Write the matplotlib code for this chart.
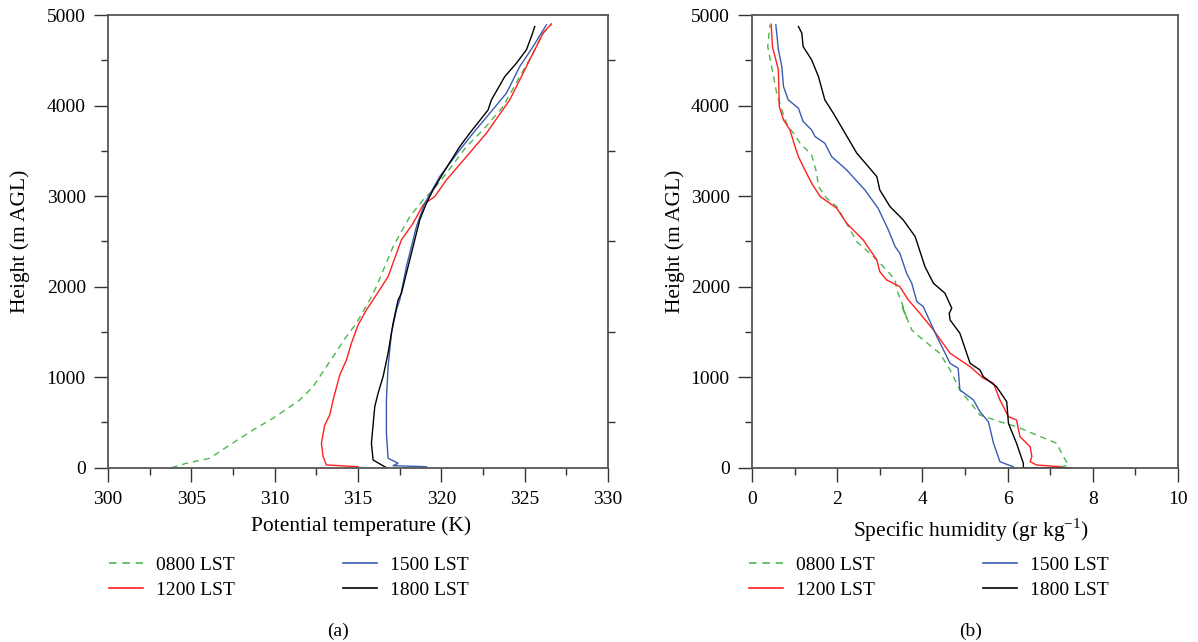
import numpy as np
import matplotlib
matplotlib.use("Agg")
import matplotlib.pyplot as plt
from matplotlib.lines import Line2D

plt.rcParams['font.family'] = ['Liberation Serif', 'DejaVu Serif']
plt.rcParams['font.size'] = 14
plt.rcParams['mathtext.fontset'] = 'custom'
plt.rcParams['mathtext.rm'] = 'Liberation Serif'

# ---- panel (a): potential temperature (K) vs height (m AGL)
theta_0800_T = [303.8, 304.7, 306.1, 307.3, 308.7, 309.9, 311.5, 312.3, 312.7, 313.5, 314.3, 314.9,
                315.7, 316.1, 317.1, 318.1, 318.9, 319.5, 320.3, 321.5, 322.5, 323.7, 324.7, 325.5, 326.1, 326.6]
theta_0800_h = [0, 49, 104, 251, 417, 546, 748, 895, 1006, 1227, 1448, 1596,
                1853, 2000, 2442, 2773, 2958, 3068, 3253, 3547, 3731, 3989, 4320, 4579, 4800, 4892]

theta_1200_T = [315.0, 313.1, 312.9, 312.8, 313.0, 313.3, 313.5, 313.9, 314.3, 314.6, 315.0, 315.5,
                315.9, 316.8, 317.6, 318.3, 318.9, 319.6, 320.3, 321.5, 322.7, 324.1, 324.5, 325.5, 326.1, 326.6]
theta_1200_h = [11, 30, 122, 270, 472, 582, 748, 1024, 1190, 1375, 1577, 1743,
                1853, 2110, 2516, 2700, 2903, 2995, 3179, 3436, 3695, 4063, 4210, 4579, 4800, 4903]

theta_1500_T = [319.1, 317.1, 317.4, 316.8, 316.7, 316.7, 316.8, 317.0, 317.3, 317.5, 317.9, 318.5,
                319.0, 319.9, 321.1, 321.9, 322.9, 323.9, 324.7, 325.5, 326.3]
theta_1500_h = [11, 22, 49, 104, 380, 748, 1116, 1485, 1743, 1853, 2221, 2663,
                2921, 3216, 3510, 3695, 3915, 4137, 4431, 4652, 4892]

theta_1800_T = [316.7, 315.9, 315.8, 316.0, 316.2, 316.5, 316.8, 317.1, 317.4, 317.6, 318.2, 318.7,
                319.1, 319.5, 320.1, 321.1, 321.7, 322.8, 323.0, 323.8, 324.5, 325.1, 325.4, 325.6]
theta_1800_h = [0, 85, 270, 674, 822, 1006, 1264, 1596, 1853, 1927, 2369, 2737,
                2921, 3068, 3253, 3547, 3695, 3952, 4063, 4320, 4468, 4616, 4763, 4873]

# ---- panel (b): specific humidity (g/kg) vs height (m AGL)
q_0800 = [7.24, 7.43, 7.31, 7.15, 6.68, 6.21, 5.82, 5.35, 5.20, 4.88, 4.65, 4.41, 4.02, 3.75, 3.51,
          3.63, 3.55, 3.40, 3.36, 3.16, 2.85, 2.46, 2.22, 1.99, 1.75, 1.56, 1.52, 1.40, 1.13, 0.81,
          0.70, 0.58, 0.46, 0.37, 0.42]
q_0800_h = [8, 30, 122, 270, 361, 453, 508, 582, 674, 859, 1080, 1264, 1411, 1521, 1798,
            1650, 1779, 1963, 2074, 2184, 2332, 2497, 2700, 2884, 2977, 3105, 3253, 3455, 3584, 3805,
            3952, 4137, 4431, 4652, 4892]

q_1200 = [7.24, 6.68, 6.53, 6.57, 6.53, 6.29, 6.21, 6.02, 5.82, 5.67, 5.43, 5.12, 4.65, 4.26, 3.94,
          3.67, 3.47, 3.16, 3.00, 2.93, 2.61, 2.22, 1.99, 1.60, 1.40, 1.24, 1.09, 1.01, 0.89, 0.74,
          0.64, 0.62, 0.48, 0.45]
q_1200_h = [11, 30, 66, 122, 232, 343, 527, 564, 748, 932, 988, 1116, 1264, 1521, 1706,
            1853, 2000, 2074, 2166, 2295, 2516, 2700, 2866, 2995, 3142, 3290, 3436, 3547, 3731, 3842,
            3989, 4394, 4652, 4899]

q_1500 = [6.13, 5.82, 5.67, 5.55, 5.35, 5.20, 4.88, 4.84, 4.65, 4.34, 4.02, 3.87, 3.75, 3.63, 3.47,
          3.36, 3.20, 2.96, 2.65, 2.22, 1.87, 1.71, 1.48, 1.40, 1.20, 1.09, 0.85, 0.74, 0.70, 0.62, 0.56]
q_1500_h = [11, 66, 270, 508, 619, 748, 859, 1098, 1153, 1448, 1779, 1834, 2037, 2148, 2369,
            2442, 2627, 2866, 3068, 3290, 3436, 3584, 3658, 3731, 3824, 3971, 4063, 4210, 4431, 4616, 4892]

q_1800 = [7.46, 6.37, 6.37, 6.21, 6.02, 5.98, 5.74, 5.43, 5.35, 5.12, 4.88, 4.65, 4.63, 4.69, 4.53,
          4.26, 4.06, 3.83, 3.55, 3.24, 3.00, 2.93, 2.46, 2.14, 1.91, 1.71, 1.56, 1.40, 1.20, 1.17, 1.09]
q_1800_h = [0, 0, 49, 270, 490, 729, 895, 1006, 1080, 1153, 1485, 1632, 1706, 1761, 1927,
            2037, 2221, 2553, 2737, 2884, 3068, 3216, 3474, 3731, 3915, 4063, 4320, 4505, 4652, 4800, 4873]

labels = ['0800 LST', '1200 LST', '1500 LST', '1800 LST']
colors = ['#4cb84c', '#ff2020', '#3a5bb0', '#000000']
styles = [(0, (4.5, 3.5)), '-', '-', '-']

fig = plt.figure(figsize=(11.98, 6.42), dpi=100)
ax1 = fig.add_axes([0.0902, 0.2715, 0.4174, 0.7051])
ax2 = fig.add_axes([0.6277, 0.2715, 0.3556, 0.7051])

series_a = [(theta_0800_T, theta_0800_h), (theta_1200_T, theta_1200_h),
            (theta_1500_T, theta_1500_h), (theta_1800_T, theta_1800_h)]
series_b = [(q_0800, q_0800_h), (q_1200, q_1200_h), (q_1500, q_1500_h), (q_1800, q_1800_h)]

for ax, series in [(ax1, series_a), (ax2, series_b)]:
    for (x, y), c, ls in zip(series, colors, styles):
        ax.plot(x, y, color=c, linestyle=ls, linewidth=1.0)
    for s in ax.spines.values():
        s.set_color('#555555')
        s.set_linewidth(1.3)
    ax.set_ylim(0, 5000)
    ax.set_yticks(np.arange(0, 5001, 1000))
    ax.set_yticks(np.arange(500, 5000, 1000), minor=True)
    ax.tick_params(which='major', direction='out', length=10, width=1.0, color='#333333',
                   labelsize=14, top=False)
    ax.tick_params(which='minor', direction='out', length=5, width=1.0, color='#333333', top=False)
    ax.tick_params(axis='y', which='major', pad=6)
    ax.tick_params(axis='x', which='major', pad=7)
    ax.set_ylabel('Height (m AGL)', fontsize=15.5)
    ax.yaxis.set_label_coords(-0.156 if ax is ax1 else -0.157, 0.5)

ax1.set_xlim(300, 330)
ax1.set_xticks(np.arange(300, 331, 5))
ax1.set_xticks(np.arange(302.5, 330, 5), minor=True)
ax1.set_xlabel('Potential temperature (K)', fontsize=15.5)
ax1.xaxis.set_label_coords(0.505, -0.107)
# right spine ticks on panel (a)
ax1r = ax1.twinx()
ax1r.set_ylim(0, 5000)
ax1r.set_yticks(np.arange(500, 5000, 1000))
ax1r.set_yticklabels([])
ax1r.tick_params(direction='out', length=5, width=1.0, color='#333333')
for s in ax1r.spines.values():
    s.set_visible(False)

ax2.set_xlim(0, 10)
ax2.set_xticks(np.arange(0, 11, 2))
ax2.set_xticks(np.arange(1, 10, 2), minor=True)
ax2.set_xlabel('Specific humidity (gr kg$^{-1}$)', fontsize=15.5)
ax2.xaxis.set_label_coords(0.515, -0.107)

handles = [Line2D([0], [0], color=c, linestyle=ls, linewidth=1.2) for c, ls in zip(colors, styles)]
for x0 in [109 / 1198, 749 / 1198]:
    fig.legend(handles, labels, loc='upper left', bbox_to_anchor=(x0, 1 - 556 / 642), ncol=2,
               frameon=False, fontsize=14, handlelength=1.75, columnspacing=5.6,
               labelspacing=0.4, handletextpad=0.65, borderpad=0, borderaxespad=0)

fig.text(338 / 1198, 1 - 631 / 642, '(a)', ha='center', va='center', fontsize=14)
fig.text(971 / 1198, 1 - 631 / 642, '(b)', ha='center', va='center', fontsize=14)

fig.savefig('out.png', dpi=100)
